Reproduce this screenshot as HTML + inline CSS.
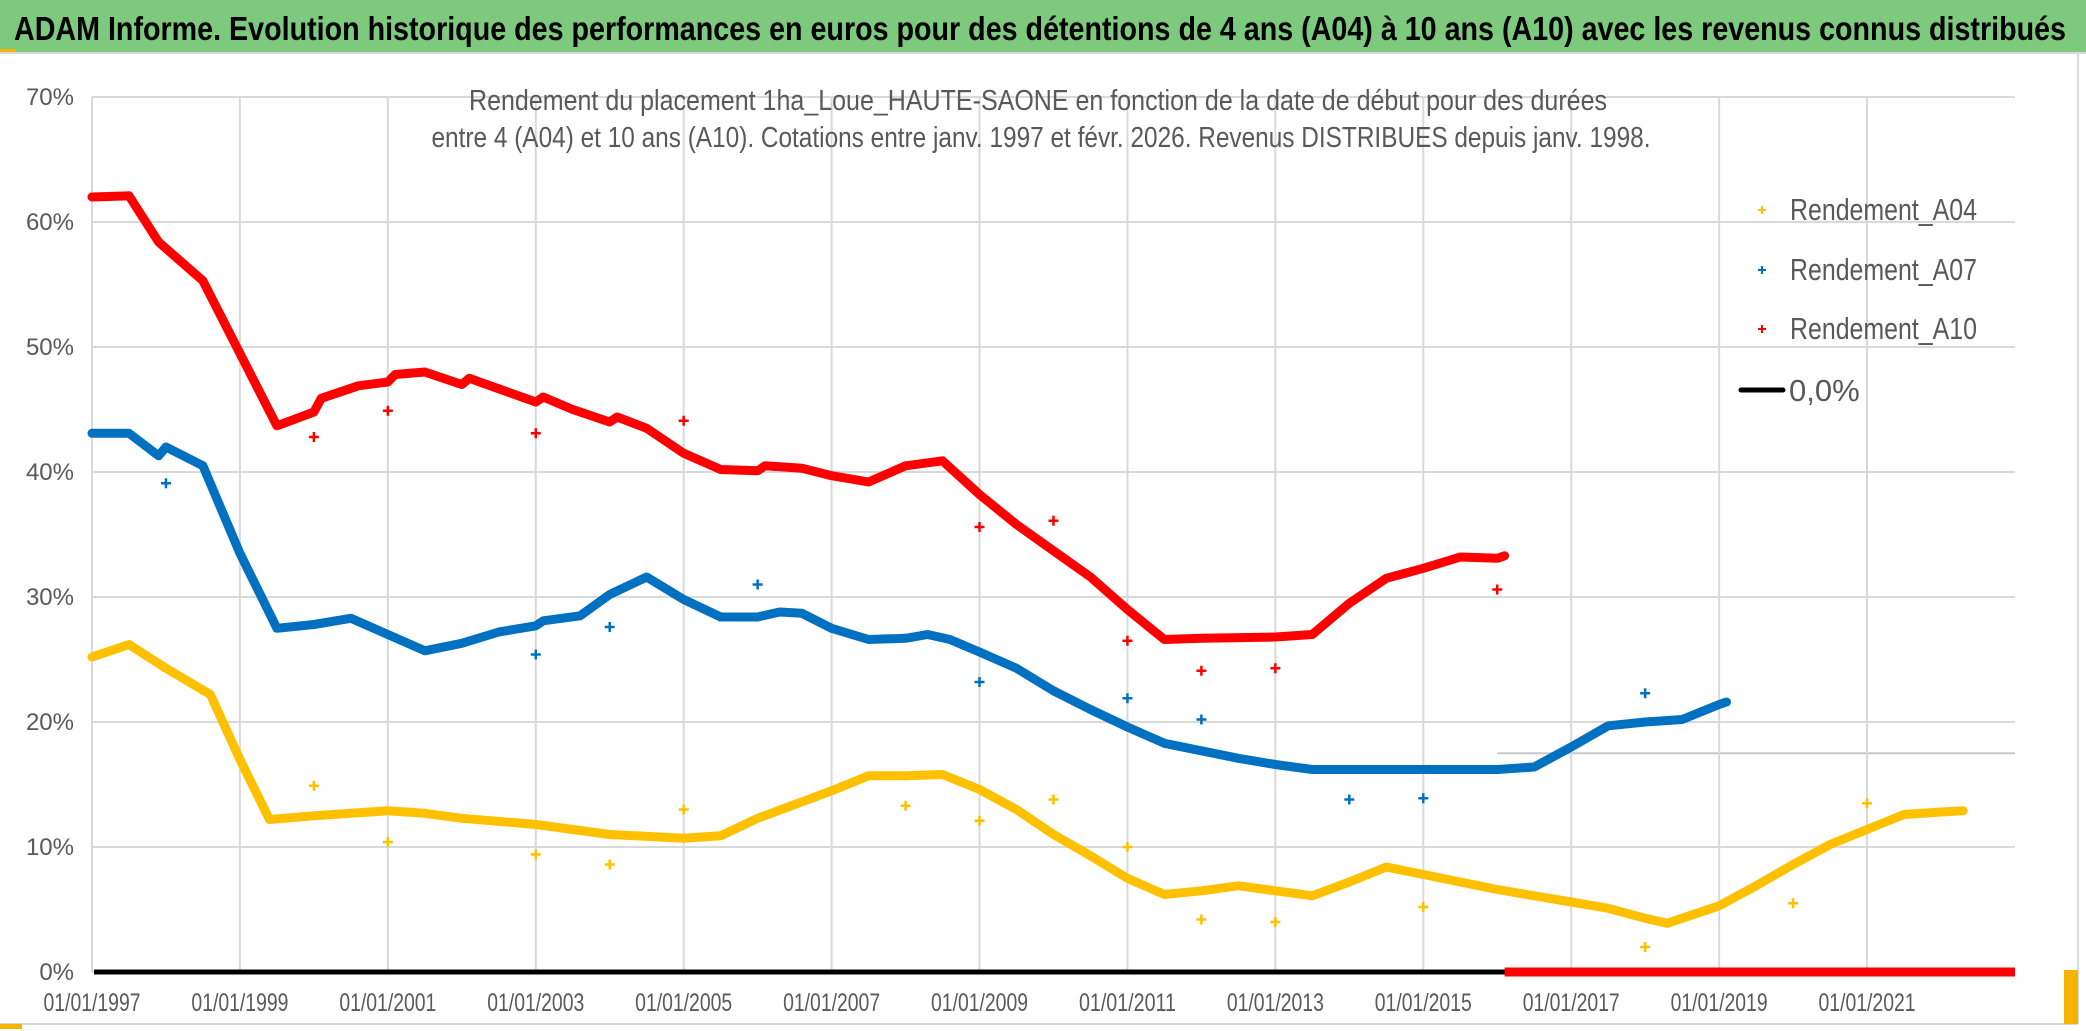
<!DOCTYPE html>
<html><head><meta charset="utf-8"><style>
html,body{margin:0;padding:0;background:#fff;}
svg{display:block;font-family:"Liberation Sans Narrow","Liberation Sans",sans-serif;}
</style></head><body>
<svg id="chart" width="2086" height="1031" viewBox="0 0 2086 1031" xmlns="http://www.w3.org/2000/svg">
<rect x="0" y="0" width="2086" height="1031" fill="#fff"/>
<rect x="0" y="0" width="2086" height="52" fill="#7dc97d"/>
<line x1="0" y1="53" x2="2086" y2="53" stroke="#d9d9d9" stroke-width="2"/>
<rect x="0" y="49" width="16" height="3" fill="#f4b400"/>
<text x="14" y="40" font-size="33" font-weight="bold" fill="#000" textLength="2052" lengthAdjust="spacingAndGlyphs">ADAM Informe. Evolution historique des performances en euros pour des détentions de 4 ans (A04) à 10 ans (A10) avec les revenus connus distribués</text>
<line x1="2078" y1="54" x2="2078" y2="1024" stroke="#d9d9d9" stroke-width="2"/>
<line x1="0" y1="1024" x2="2078" y2="1024" stroke="#d9d9d9" stroke-width="2"/>
<rect x="2064" y="970" width="14" height="54" fill="#f4b400"/>
<rect x="0" y="1024" width="22" height="5" fill="#f4b400"/>
<g id="grid"></g>
<g id="axes"></g>
<g id="series"></g>
<text x="1038" y="110" font-size="29" fill="#595959" text-anchor="middle" textLength="1138" lengthAdjust="spacingAndGlyphs">Rendement du placement 1ha_Loue_HAUTE-SAONE en fonction de la date de début pour des durées</text>
<text x="1041" y="147" font-size="29" fill="#595959" text-anchor="middle" textLength="1219" lengthAdjust="spacingAndGlyphs">entre 4 (A04) et 10 ans (A10). Cotations entre janv. 1997 et févr. 2026. Revenus DISTRIBUES depuis janv. 1998.</text>
<g id="legend"></g>
</svg>
<script>
const yearsA04 = [1997.0,1997.5,1998.0,1998.6,1999.0,1999.4,2000.0,2000.5,2001.0,2001.5,2002.0,2003.0,2004.0,2005.0,2005.5,2006.0,2007.0,2007.5,2008.0,2008.5,2009.0,2009.5,2010.0,2010.5,2011.0,2011.5,2012.0,2012.5,2013.0,2013.5,2014.0,2014.5,2015.0,2015.5,2016.0,2016.5,2017.0,2017.5,2018.0,2018.3,2019.0,2019.5,2020.0,2020.5,2021.0,2021.5,2022.0,2022.3];
const valuesA04 = [25.2,26.2,24.3,22.2,17.0,12.2,12.5,12.7,12.9,12.7,12.3,11.8,11.0,10.7,10.9,12.3,14.5,15.7,15.7,15.8,14.6,13.0,11.0,9.3,7.5,6.2,6.5,6.9,6.5,6.1,7.2,8.4,7.8,7.2,6.6,6.1,5.6,5.1,4.3,3.9,5.3,6.9,8.6,10.2,11.4,12.6,12.8,12.9];
const yearsA07 = [1997.0,1997.5,1997.9,1998.0,1998.5,1999.0,1999.5,2000.0,2000.5,2001.0,2001.5,2002.0,2002.5,2003.0,2003.1,2003.6,2004.0,2004.5,2005.0,2005.5,2006.0,2006.3,2006.6,2007.0,2007.5,2008.0,2008.3,2008.6,2009.0,2009.5,2010.0,2010.5,2011.0,2011.5,2012.0,2012.5,2013.0,2013.5,2014.0,2015.0,2016.0,2016.5,2017.0,2017.5,2018.0,2018.5,2019.0,2019.1];
const valuesA07 = [43.1,43.1,41.3,42.0,40.5,33.5,27.5,27.8,28.3,27.0,25.7,26.3,27.2,27.7,28.1,28.5,30.2,31.6,29.8,28.4,28.4,28.8,28.7,27.5,26.6,26.7,27.0,26.6,25.6,24.3,22.5,21.0,19.6,18.3,17.7,17.1,16.6,16.2,16.2,16.2,16.2,16.4,18.0,19.7,20.0,20.2,21.4,21.6];
const yearsA10 = [1997.0,1997.5,1997.9,1998.5,1999.0,1999.5,2000.0,2000.1,2000.6,2001.0,2001.1,2001.5,2002.0,2002.1,2003.0,2003.1,2003.5,2004.0,2004.1,2004.5,2005.0,2005.5,2006.0,2006.1,2006.6,2007.0,2007.5,2008.0,2008.5,2009.0,2009.5,2010.0,2010.5,2011.0,2011.5,2012.0,2013.0,2013.5,2014.0,2014.5,2015.0,2015.5,2016.0,2016.1];
const valuesA10 = [62.0,62.1,58.4,55.3,49.5,43.7,44.8,45.9,46.9,47.2,47.8,48.0,47.0,47.5,45.6,46.0,45.0,44.0,44.4,43.5,41.5,40.2,40.1,40.5,40.3,39.7,39.2,40.5,40.9,38.2,35.8,33.7,31.6,29.0,26.6,26.7,26.8,27.0,29.5,31.5,32.3,33.2,33.1,33.3];
const outYearsA04 = [2000,2001,2003,2004,2005,2008,2009,2010,2011,2012,2013,2015,2018,2020,2021];
const outValsA04 = [14.9,10.4,9.4,8.6,13.0,13.3,12.1,13.8,10.0,4.2,4.0,5.2,2.0,5.5,13.5];
const outYearsA07 = [1998,2003,2004,2006,2009,2011,2012,2014,2015,2018];
const outValsA07 = [39.1,25.4,27.6,31.0,23.2,21.9,20.2,13.8,13.9,22.3];
const outYearsA10 = [2000,2001,2003,2005,2009,2010,2011,2012,2013,2016];
const outValsA10 = [42.8,44.9,43.1,44.1,35.6,36.1,26.5,24.1,24.3,30.6];
const zeroStartYears = [2022.4,2019.1,2016.1];
const zeroEndYear = 2023.0;
const yTicks = [0,10,20,30,40,50,60,70];
const xTickYears = [1997,1999,2001,2003,2005,2007,2009,2011,2013,2015,2017,2019,2021];
const xTickLabels = ["01/01/1997","01/01/1999","01/01/2001","01/01/2003","01/01/2005","01/01/2007","01/01/2009","01/01/2011","01/01/2013","01/01/2015","01/01/2017","01/01/2019","01/01/2021"];
const yLabelSuffix = "%";

const NS = "http://www.w3.org/2000/svg";
const X0 = 92, PXY = 73.96, Y0 = 972, PXP = 12.5, XR = 2015;
function xS(y){ return X0 + (y - 1997) * PXY; }
function yS(v){ return Y0 - v * PXP; }
function mk(tag, attrs, parent){ const e = document.createElementNS(NS, tag); for (const k in attrs) e.setAttribute(k, attrs[k]); parent.appendChild(e); return e; }

const grid = document.getElementById('grid');
const axes = document.getElementById('axes');
const series = document.getElementById('series');
const legend = document.getElementById('legend');

yTicks.forEach(t => {
  const l = mk('line', {x1: X0, x2: XR, y1: yS(t), y2: yS(t), stroke: '#d9d9d9', 'stroke-width': 2}, grid);
  
  
  const tx = mk('text', {x: 74, y: yS(t) + 8, 'font-size': 24, fill: '#595959', 'text-anchor': 'end'}, axes);
  tx.textContent = t + yLabelSuffix;
  
  
});
const extra = mk('line', {x1: xS(2016.0), x2: XR, y1: yS(17.5), y2: yS(17.5), stroke: '#c8c8c8', 'stroke-width': 2}, grid);


xTickYears.forEach((yr, i) => {
  const l = mk('line', {x1: xS(yr), x2: xS(yr), y1: yS(70), y2: Y0, stroke: '#d9d9d9', 'stroke-width': 2}, grid);
  
  
  const tx = mk('text', {x: xS(yr), y: 1011, 'font-size': 25, fill: '#595959', 'text-anchor': 'middle', textLength: 97, lengthAdjust: 'spacingAndGlyphs'}, axes);
  tx.textContent = xTickLabels[i];
  
  
});

const z = mk('line', {x1: X0 + 2, x2: xS(zeroEndYear), y1: Y0, y2: Y0, stroke: '#000', 'stroke-width': 5}, series);



const cols = ['#ffc000', '#0070c0', '#ff0000'];
zeroStartYears.forEach((s, i) => {
  const zl = mk('line', {x1: xS(s), x2: xS(zeroEndYear), y1: Y0, y2: Y0, stroke: cols[i], 'stroke-width': 9}, series);
  
  
});

function band(xs, vs, col, name){
  const pts = xs.map((x, i) => xS(x).toFixed(1) + ',' + yS(vs[i]).toFixed(1)).join(' ');
  const p = mk('polyline', {points: pts, fill: 'none', stroke: col, 'stroke-width': 9, 'stroke-linejoin': 'round', 'stroke-linecap': 'round'}, series);
  
  
}
function crosses(xs, vs, col, name){
  xs.forEach((x, i) => {
    const cx = xS(x), cy = yS(vs[i]);
    const d = `M${cx-5},${cy}H${cx+5}M${cx},${cy-5}V${cy+5}`;
    const p = mk('path', {d: d, stroke: col, 'stroke-width': 2.5, fill: 'none'}, series);
    
    
  });
}
band(yearsA04, valuesA04, cols[0], 'series-a04');
band(yearsA07, valuesA07, cols[1], 'series-a07');
band(yearsA10, valuesA10, cols[2], 'series-a10');
crosses(outYearsA04, outValsA04, cols[0], 'outlier-a04');
crosses(outYearsA07, outValsA07, cols[1], 'outlier-a07');
crosses(outYearsA10, outValsA10, cols[2], 'outlier-a10');

const legNames = ['Rendement_A04', 'Rendement_A07', 'Rendement_A10'];
const legY = [220, 280, 339];
legNames.forEach((n, i) => {
  const cx = 1762, cy = legY[i] - 10;
  const p = mk('path', {d: `M${cx-4},${cy}H${cx+4}M${cx},${cy-4}V${cy+4}`, stroke: cols[i], 'stroke-width': 2}, legend);
  
  
  const t = mk('text', {x: 1790, y: legY[i], 'font-size': 31, fill: '#595959', textLength: 187, lengthAdjust: 'spacingAndGlyphs'}, legend);
  t.textContent = n;
  
  
});
const ll = mk('line', {x1: 1741, x2: 1783, y1: 390, y2: 390, stroke: '#000', 'stroke-width': 5, 'stroke-linecap': 'round'}, legend);


const lt = mk('text', {x: 1789, y: 401, 'font-size': 31, fill: '#595959'}, legend);
lt.textContent = '0,0%';


</script>
</body></html>
